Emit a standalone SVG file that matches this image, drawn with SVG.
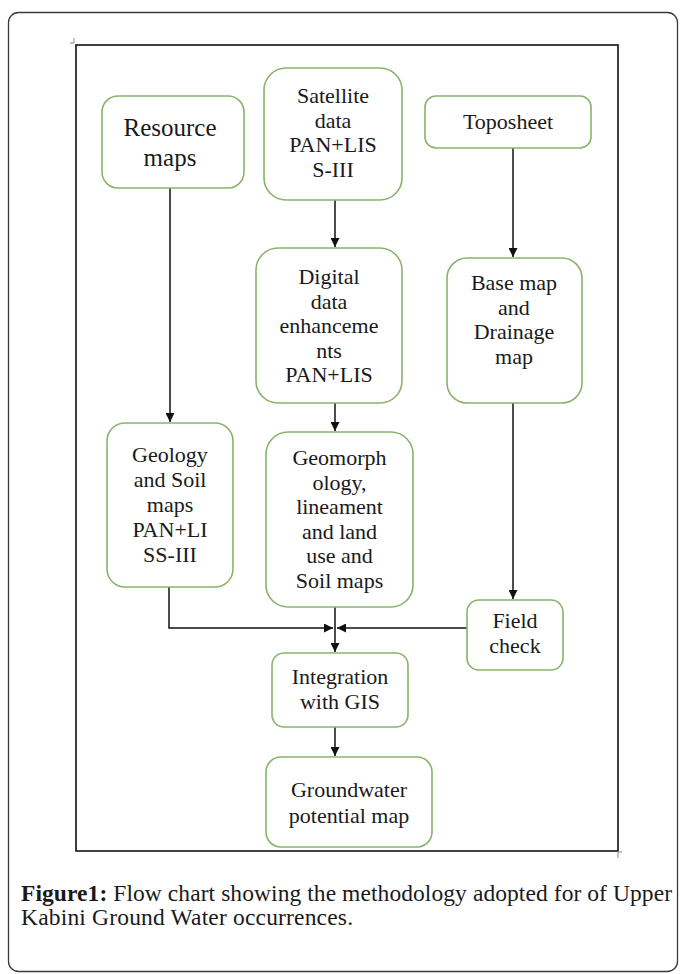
<svg xmlns="http://www.w3.org/2000/svg" width="680" height="974" viewBox="0 0 680 974">
<style>
.card{fill:#fff;stroke:#3a3a3a;stroke-width:1.3}
.frame{fill:none;stroke:#111;stroke-width:1.6}
.tick{fill:none;stroke:#888;stroke-width:1}
.box{fill:#fff;stroke:#8ab36a;stroke-width:1.6}
.t{font-family:"Liberation Serif","Times New Roman",serif;font-size:22px;fill:#1a1a1a;text-anchor:middle}
.big{font-size:25px}
.cap{font-family:"Liberation Serif","Times New Roman",serif;font-size:23.5px;fill:#1a1a1a}
.ln{fill:none;stroke:#111;stroke-width:1.5}
</style>
<defs>
<marker id="ah" viewBox="0 0 10 10" refX="10" refY="5" markerWidth="9" markerHeight="9" markerUnits="userSpaceOnUse" orient="auto">
<path d="M0,0 L10,5 L0,10 z" fill="#111"/>
</marker>
</defs>
<rect class="card" x="8.5" y="12.5" width="669" height="959" rx="10"/>
<rect class="frame" x="76" y="45" width="542" height="806"/>
<path class="tick" d="M74,38 V43 H70"/>
<path class="tick" d="M618,851 V858 M618,852 H622"/>

<g id="connectors">
<line class="ln" x1="170" y1="188" x2="170" y2="422" marker-end="url(#ah)"/>
<line class="ln" x1="335" y1="200" x2="335" y2="247" marker-end="url(#ah)"/>
<line class="ln" x1="513" y1="148" x2="513" y2="257" marker-end="url(#ah)"/>
<line class="ln" x1="335" y1="403" x2="335" y2="431" marker-end="url(#ah)"/>
<line class="ln" x1="513" y1="403" x2="513" y2="599" marker-end="url(#ah)"/>
<polyline class="ln" points="169,587 169,628 333,628" marker-end="url(#ah)"/>
<line class="ln" x1="467" y1="628" x2="337" y2="628" marker-end="url(#ah)"/>
<line class="ln" x1="335" y1="607" x2="335" y2="652" marker-end="url(#ah)"/>
<line class="ln" x1="335" y1="727" x2="335" y2="756" marker-end="url(#ah)"/>
</g>

<g id="resource-maps">
<rect class="box" x="102" y="96" width="142" height="92" rx="16"/>
<text class="t big" x="170" y="136">Resource</text>
<text class="t big" x="170" y="166">maps</text>
</g>

<g id="satellite-data">
<rect class="box" x="264" y="68" width="138" height="132" rx="22"/>
<text class="t" x="333" y="103">Satellite</text>
<text class="t" x="333" y="127.5">data</text>
<text class="t" x="333" y="152">PAN+LIS</text>
<text class="t" x="333" y="176.5">S-III</text>
</g>

<g id="toposheet">
<rect class="box" x="425" y="96" width="166" height="52" rx="11"/>
<text class="t" x="508" y="129">Toposheet</text>
</g>

<g id="digital-data">
<rect class="box" x="256" y="248" width="146" height="155" rx="22"/>
<text class="t" x="329" y="284">Digital</text>
<text class="t" x="329" y="308.5">data</text>
<text class="t" x="329" y="333">enhanceme</text>
<text class="t" x="329" y="357.5">nts</text>
<text class="t" x="329" y="382">PAN+LIS</text>
</g>

<g id="base-map">
<rect class="box" x="447" y="258" width="135" height="145" rx="20"/>
<text class="t" x="514" y="290">Base map</text>
<text class="t" x="514" y="314.5">and</text>
<text class="t" x="514" y="339">Drainage</text>
<text class="t" x="514" y="363.5">map</text>
</g>

<g id="geology-soil">
<rect class="box" x="107" y="423" width="126" height="164" rx="18"/>
<text class="t" x="170" y="462">Geology</text>
<text class="t" x="170" y="487">and Soil</text>
<text class="t" x="170" y="512">maps</text>
<text class="t" x="170" y="537">PAN+LI</text>
<text class="t" x="170" y="562">SS-III</text>
</g>

<g id="geomorphology">
<rect class="box" x="266" y="432" width="147" height="175" rx="22"/>
<text class="t" x="339.5" y="465">Geomorph</text>
<text class="t" x="339.5" y="489.5">ology,</text>
<text class="t" x="339.5" y="514">lineament</text>
<text class="t" x="339.5" y="538.5">and land</text>
<text class="t" x="339.5" y="563">use and</text>
<text class="t" x="339.5" y="587.5">Soil maps</text>
</g>

<g id="field-check">
<rect class="box" x="467" y="600" width="96" height="70" rx="12"/>
<text class="t" x="515" y="628">Field</text>
<text class="t" x="515" y="652.5">check</text>
</g>

<g id="integration">
<rect class="box" x="272" y="653" width="136" height="74" rx="12"/>
<text class="t" x="340" y="684">Integration</text>
<text class="t" x="340" y="708.5">with GIS</text>
</g>

<g id="groundwater">
<rect class="box" x="266" y="757" width="166" height="90" rx="15"/>
<text class="t" x="349" y="797">Groundwater</text>
<text class="t" x="349" y="823">potential map</text>
</g>

<g id="caption">
<text class="cap" x="21" y="901" textLength="651" lengthAdjust="spacing"><tspan font-weight="bold">Figure1:</tspan> Flow chart showing the methodology adopted for of Upper</text>
<text class="cap" x="21" y="925" textLength="332" lengthAdjust="spacing">Kabini Ground Water occurrences.</text>
</g>
</svg>
